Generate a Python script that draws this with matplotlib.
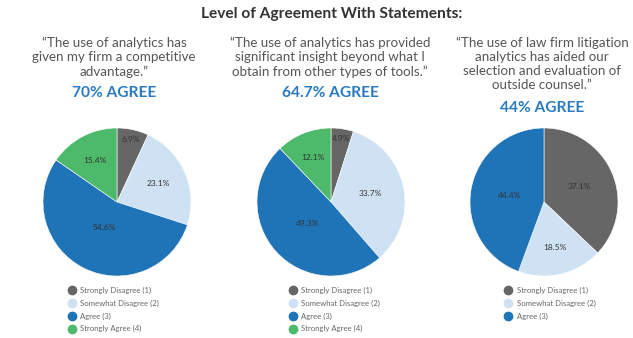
import numpy as np
import matplotlib
matplotlib.use("Agg")
import matplotlib.pyplot as plt
from matplotlib.lines import Line2D

plt.rcParams['font.family'] = ['Lato', 'DejaVu Sans']

# data
categories = ["Strongly Disagree (1)", "Somewhat Disagree (2)", "Agree (3)", "Strongly Agree (4)"]
colors = ["#666666", "#cfe2f3", "#1f73b7", "#4cb96b"]

quotes = [
    "\u201cThe use of analytics has\ngiven my firm a competitive\nadvantage.\u201d",
    "\u201cThe use of analytics has provided\nsignificant insight beyond what I\nobtain from other types of tools.\u201d",
    "\u201cThe use of law firm litigation\nanalytics has aided our\nselection and evaluation of\noutside counsel.\u201d",
]
agree_labels = ["70% AGREE", "64.7% AGREE", "44% AGREE"]

pie1 = [6.9, 23.1, 54.6, 15.4]
pie2 = [4.9, 33.7, 49.3, 12.1]
pie3 = [37.1, 18.5, 44.4]
pies = [pie1, pie2, pie3]

W, H = 633, 338
fig = plt.figure(figsize=(W / 100, H / 100), dpi=100)

fig.text(332 / W, 1 - 14 / H, "Level of Agreement With Statements:", ha="center", va="center",
         fontsize=11.2, fontweight="bold", color="#333333")

centers = [117, 331, 544]
quote_x = [114, 330, 542]
legend_x = [72, 293, 509]
r = 74
cy = 202

for i, vals in enumerate(pies):
    nlines = quotes[i].count("\n") + 1
    fig.text(quote_x[i] / W, 1 - 37 / H, quotes[i], ha="center", va="top", fontsize=9.6,
             color="#555555", linespacing=1.19)
    agree_y = 93 if nlines == 3 else 108
    fig.text(quote_x[i] / W, 1 - agree_y / H, agree_labels[i], ha="center", va="center",
             fontsize=11.2, fontweight="bold", color="#2a7ac0")

    ax = fig.add_axes([(centers[i] - r) / W, (H - cy - r) / H, 2 * r / W, 2 * r / H])
    wedges, _ = ax.pie(vals, colors=colors[:len(vals)], startangle=90, counterclock=False,
                       radius=1, wedgeprops=dict(linewidth=0.4, edgecolor="white"))
    for w, v in zip(wedges, vals):
        a1, a2 = np.deg2rad(w.theta1), np.deg2rad(w.theta2)
        half = (a2 - a1) / 2
        mid = (a1 + a2) / 2
        d = 2 * np.sin(half) / (3 * half)
        if v < 8:
            d = 0.87
        ax.text(d * np.cos(mid), d * np.sin(mid), f"{v}%", ha="center", va="center",
                fontsize=6, color="#333333")
    ax.set_xlim(-1, 1)
    ax.set_ylim(-1, 1)

    handles = [Line2D([], [], marker="o", linestyle="none", markersize=6,
                      markerfacecolor=c, markeredgecolor=c) for c in colors[:len(vals)]]
    fig.legend(handles, categories[:len(vals)], loc="upper left",
               bbox_to_anchor=((legend_x[i] - 4) / W, 1 - 287 / H),
               frameon=False, fontsize=5.6, labelcolor="#666666", borderpad=0,
               handlelength=0.9, handletextpad=0.6, labelspacing=0.72, borderaxespad=0)

fig.savefig("out.png", dpi=100)
